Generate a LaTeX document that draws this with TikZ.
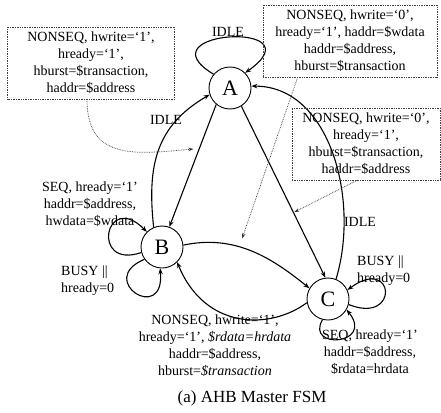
\documentclass[tikz,border=0pt]{standalone}
\usepackage{fontspec}
\setmainfont{Liberation Serif}
\usetikzlibrary{arrows.meta}

\begin{document}
\begin{tikzpicture}[x=1pt, y=-1pt,
  >={Stealth[length=6pt, width=4.5pt]},
  state/.style={draw, circle, line width=0.9pt, minimum size=42pt,
    inner sep=0pt, font=\fontsize{22}{24}\selectfont},
  lbl/.style={font=\fontsize{14}{17}\selectfont, align=center, inner sep=1pt},
  note/.style={lbl, draw=black!75, densely dotted, line width=0.7pt,
    minimum width=#1, minimum height=72pt},
  arr/.style={->, line width=1.1pt},
  ptr/.style={-{Stealth[length=5pt, width=3.5pt]}, densely dotted,
    line width=0.7pt, black!80},
]

% Page
\fill[white] (0,0) rectangle (441,412);
\useasboundingbox (0,0) rectangle (441,412);

% =============================================
% States
% =============================================
\node[state] (A) at (230,88) {A};
\node[state] (B) at (162,247) {B};
\node[state] (C) at (328,299) {C};

% =============================================
% Transitions
% =============================================
% A: stay idle
\draw[arr] (A.140) .. controls (140,30) and (320,20) .. (A.45);
\node[lbl] (idleA) at (228,32) {IDLE};

% A <-> B
\draw[arr] (A.230) -- (B.70) coordinate[pos=0.36] (ab);
\draw[arr] (B.113) .. controls (147,165) and (156,126) .. (A.198);
\node[lbl] (idleB) at (166,120) {IDLE};

% A <-> C
\draw[arr] (A.302) -- (C.97) coordinate[pos=0.62] (ac);
\draw[arr] (C.68) .. controls (360,200) and (330,86) .. (A.5);
\node[lbl] (idleC) at (360,222) {IDLE};

% B <-> C
\draw[arr] (B.5) .. controls (235,234) and (272,258) .. (C.150)
  coordinate[pos=0.4] (bc);
\draw[arr] (C.190) .. controls (270,330) and (205,330) .. (B.315);
\node[lbl] (cb) at (215,346)
  {NONSEQ, hwrite=`1',\\
   hready=`1', \textit{\$rdata=hrdata}\\
   haddr=\$address,\\
   hburst=\textit{\$transaction}};

% B: burst / busy
\draw[arr] (B.195) .. controls (90,270) and (105,190) .. (B.135);
\node[lbl] (seqB) at (90,204)
  {SEQ, hready=`1'\\ haddr=\$address,\\ hwdata=\$wdata};
\draw[arr] (B.215) .. controls (95,280) and (165,325) .. (B.265);
\node[lbl, anchor=west, align=left] (busyB) at (60,281)
  {BUSY \textbar\textbar\\ hready=0};

% C: busy / burst
\draw[arr] (C.-15) .. controls (400,325) and (395,255) .. (C.25);
\node[lbl, anchor=west, align=left] (busyC) at (356,271)
  {BUSY \textbar\textbar\\ hready=0};
\draw[arr] (C.255) .. controls (305,350) and (375,345) .. (C.-30);
\node[lbl] (seqC) at (370,352)
  {SEQ, hready=`1'\\ haddr=\$address,\\ \$rdata=hrdata};

% =============================================
% Notes on the transitions
% =============================================
\node[note=167pt] (wr) at (91,63)
  {NONSEQ, hwrite=`1',\\ hready=`1',\\ hburst=\$transaction,\\ haddr=\$address};
\node[note=174pt] (rd) at (350,41)
  {NONSEQ, hwrite=`0',\\ hready=`1', haddr=\$wdata\\ haddr=\$address,\\ hburst=\$transaction};
\node[note=148pt] (rd2) at (366,144)
  {NONSEQ, hwrite=`0',\\ hready=`1',\\ hburst=\$transaction,\\ haddr=\$address};

\draw[ptr, shorten >=6pt] ([xshift=-4pt]wr.south) to[out=-90, in=185, looseness=1.3] (ab);
\draw[ptr, shorten >=9pt] ([xshift=35pt]rd.south west) -- (bc);
\draw[ptr, shorten >=1pt] ([xshift=-9pt]rd2.south) -- (ac);

% Caption
\node[font=\fontsize{17}{20}\selectfont] (cap) at (252,398) {(a) AHB Master FSM};

\end{tikzpicture}
\end{document}
